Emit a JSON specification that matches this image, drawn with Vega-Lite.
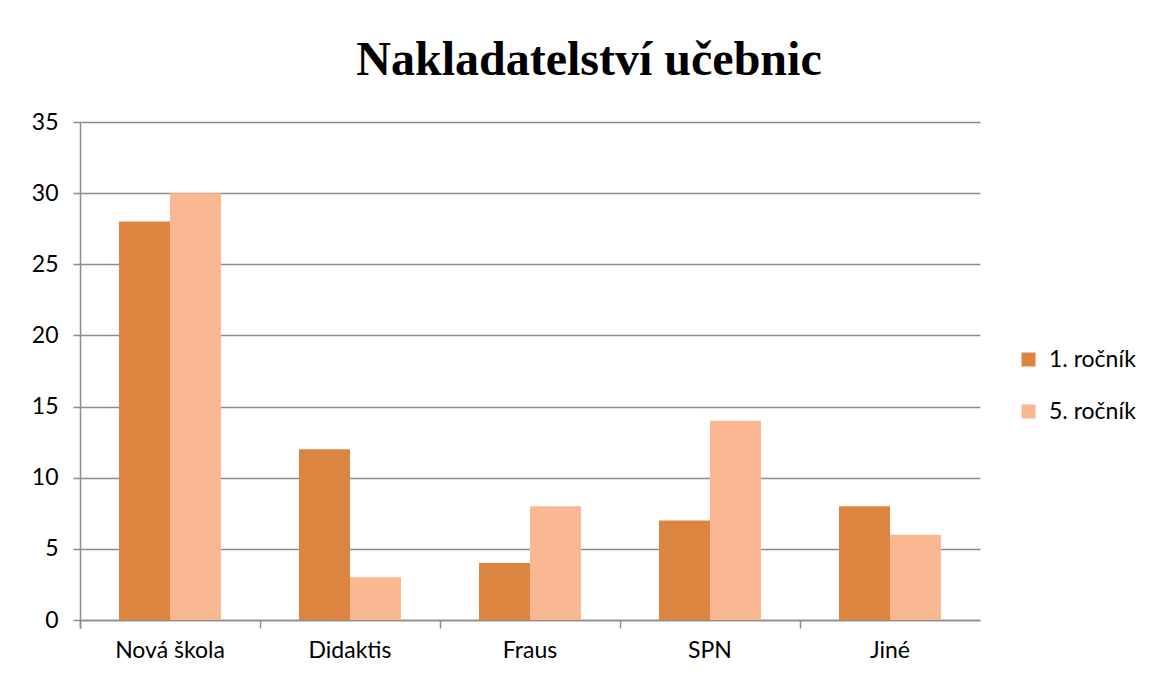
{
  "$schema": "https://vega.github.io/schema/vega-lite/v6.json",
  "width": 900,
  "height": 498,
  "autosize": {"type": "none"},
  "padding": {"left": 80, "top": 122, "right": 170, "bottom": 58},
  "background": "white",
  "title": {
    "text": "Nakladatelství učebnic",
    "font": "Liberation Serif",
    "fontSize": 48,
    "fontWeight": "bold",
    "color": "#000000",
    "anchor": "middle",
    "frame": "group",
    "dx": 59,
    "offset": 26
  },
  "data": {
    "values": [
      {"publisher": "Nová škola", "grade": "1. ročník", "count": 28},
      {"publisher": "Nová škola", "grade": "5. ročník", "count": 30},
      {"publisher": "Didaktis", "grade": "1. ročník", "count": 12},
      {"publisher": "Didaktis", "grade": "5. ročník", "count": 3},
      {"publisher": "Fraus", "grade": "1. ročník", "count": 4},
      {"publisher": "Fraus", "grade": "5. ročník", "count": 8},
      {"publisher": "SPN", "grade": "1. ročník", "count": 7},
      {"publisher": "SPN", "grade": "5. ročník", "count": 14},
      {"publisher": "Jiné", "grade": "1. ročník", "count": 8},
      {"publisher": "Jiné", "grade": "5. ročník", "count": 6}
    ]
  },
  "mark": {"type": "bar"},
  "encoding": {
    "x": {
      "field": "publisher",
      "type": "nominal",
      "sort": ["Nová škola", "Didaktis", "Fraus", "SPN", "Jiné"],
      "scale": {"paddingInner": 0, "paddingOuter": 0},
      "axis": {
        "title": null,
        "labelAngle": 0,
        "bandPosition": 0,
        "tickExtra": true,
        "tickSize": 8,
        "tickColor": "#8c8c8c",
        "tickWidth": 1.5,
        "domainColor": "#8c8c8c",
        "domainWidth": 1.5,
        "labelFont": "Lato",
        "labelFontSize": 23,
        "labelColor": "#000000",
        "labelPadding": 11,
        "grid": false
      }
    },
    "xOffset": {
      "field": "grade",
      "type": "nominal",
      "scale": {"paddingInner": 0, "paddingOuter": 0.765}
    },
    "y": {
      "field": "count",
      "type": "quantitative",
      "scale": {"domain": [0, 35], "nice": false},
      "axis": {
        "title": null,
        "values": [0, 5, 10, 15, 20, 25, 30, 35],
        "tickSize": 7,
        "tickColor": "#8c8c8c",
        "tickWidth": 1.5,
        "domainColor": "#8c8c8c",
        "domainWidth": 1.5,
        "gridColor": "#8c8c8c",
        "gridWidth": 1.5,
        "labelFont": "Lato",
        "labelFontSize": 23,
        "labelColor": "#000000",
        "labelPadding": 15
      }
    },
    "color": {
      "field": "grade",
      "type": "nominal",
      "scale": {"domain": ["1. ročník", "5. ročník"], "range": ["#dc8541", "#f9b792"]},
      "legend": {
        "title": null,
        "orient": "none",
        "legendX": 937,
        "legendY": 226,
        "symbolType": "square",
        "symbolSize": 196,
        "symbolStrokeWidth": 0,
        "labelFont": "Lato",
        "labelFontSize": 23,
        "labelColor": "#000000",
        "labelOffset": 9,
        "rowPadding": 28
      }
    }
  },
  "config": {
    "view": {"stroke": null}
  }
}
